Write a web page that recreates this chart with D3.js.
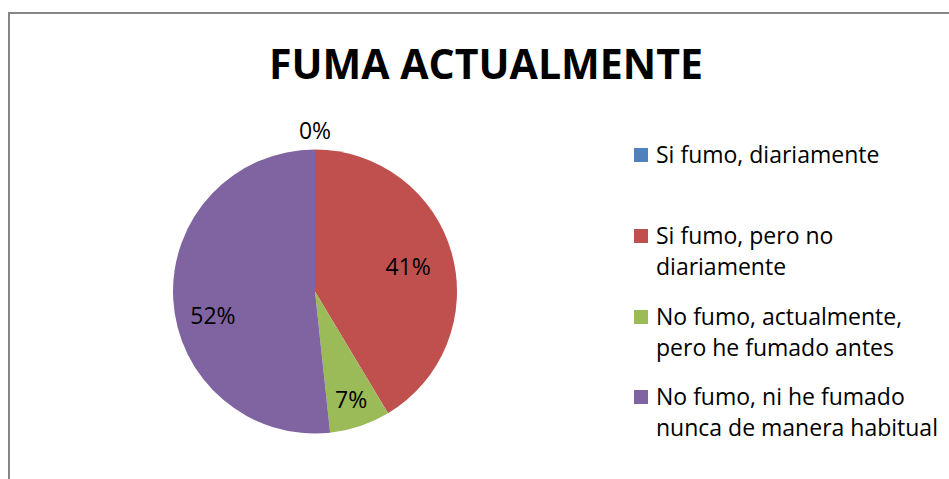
<!DOCTYPE html>
<html><head><meta charset="utf-8">
<script src="https://cdn.jsdelivr.net/npm/d3@7"></script>
<style>html,body{margin:0;padding:0;background:#fff;}svg{display:block;}</style>
</head><body>
<svg id="c" width="949" height="479"></svg>
<script>
const title = "FUMA ACTUALMENTE";
const categories = ["Si fumo, diariamente", "Si fumo, pero no diariamente", "No fumo, actualmente, pero he fumado antes", "No fumo, ni he fumado nunca de manera habitual"];
const legendLines = [["Si fumo, diariamente"], ["Si fumo, pero no", "diariamente"], ["No fumo, actualmente,", "pero he fumado antes"], ["No fumo, ni he fumado", "nunca de manera habitual"]];
const values = [0, 41.4, 6.9, 51.7];
const colors = ["#4F81BD", "#C0504D", "#9BBB59", "#8064A2"];

const svg = d3.select("#c");
const font = "'Open Sans', 'DejaVu Sans', sans-serif";

svg.append("rect").attr("x", 9).attr("y", 13).attr("width", 1000).attr("height", 600)
  .attr("fill", "#fff").attr("stroke", "#868686").attr("stroke-width", 2);

svg.append("text").attr("x", 486).attr("y", 79).attr("text-anchor", "middle")
  .attr("font-family", font).attr("font-weight", 700).attr("font-size", 42)
  .attr("textLength", 434).attr("lengthAdjust", "spacingAndGlyphs")
  .text(title);

const cx = 315, cy = 291.5, R = 142;
const pie = d3.pie().sort(null).value(d => d)(values);
const arc = d3.arc().innerRadius(0).outerRadius(R);
const g = svg.append("g").attr("transform", `translate(${cx},${cy})`);
g.selectAll("path").data(pie).join("path").attr("d", arc).attr("fill", (d, i) => colors[i]);

const labelR = [R + 20, R * 0.68, R * 0.8, R * 0.72];
const fmt = d3.format(".0%");
g.selectAll("text.lbl").data(pie).join("text").attr("class", "lbl")
  .attr("transform", (d, i) => {
    const a = d3.arc().innerRadius(labelR[i]).outerRadius(labelR[i]);
    const [x, y] = a.centroid(d);
    return `translate(${x},${y + (i === 3 ? 18 : 0)})`;
  })
  .attr("text-anchor", "middle").attr("dominant-baseline", "central")
  .attr("font-family", font).attr("font-size", 23).attr("fill", "#000")
  .text(d => fmt(d.data / 100));

const legendY = [155, 236, 317, 397];
const lg = svg.append("g");
legendLines.forEach((lines, i) => {
  lg.append("rect").attr("x", 634).attr("y", legendY[i] - 7).attr("width", 14).attr("height", 14).attr("fill", colors[i]);
  const t = lg.append("text").attr("font-family", font).attr("font-size", 23).attr("fill", "#000");
  const baseY = legendY[i] + 8;
  lines.forEach((ln, j) => {
    t.append("tspan").attr("x", 656).attr("y", baseY + j * 31).text(ln);
  });
});
</script>
</body></html>
